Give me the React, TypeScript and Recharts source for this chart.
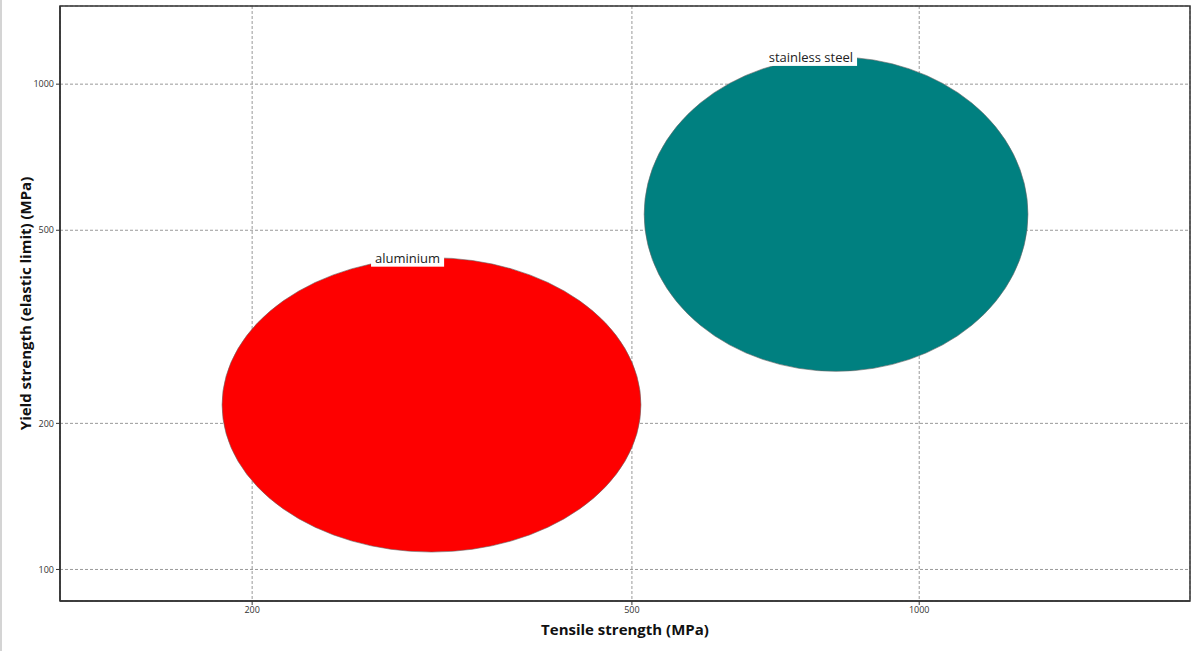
import {
  ScatterChart,
  XAxis,
  YAxis,
  CartesianGrid,
  ReferenceArea,
  ReferenceDot,
} from "recharts";

// material property envelopes (MPa)
const materials = ["aluminium", "stainless steel"];
const tensileMin = [186, 515];
const tensileMax = [511, 1300];
const yieldMin = [108.6, 256];
const yieldMax = [439, 1138];
const labelTensile = [291, 770];
const fills = ["#fe0000", "#008080"];

const xMajor = [200, 500, 1000];
const xMinor = [300, 400, 600, 700, 800, 900];
const yMajor = [100, 200, 500, 1000];
const yMinor = [90, 300, 400, 600, 700, 800, 900];

const xDomain: [number, number] = [125.8, 1922];
const yDomain: [number, number] = [86.1, 1449];

const FONT = "'Open Sans', sans-serif";

let ctx: CanvasRenderingContext2D | null = null;
function textWidth(s: string, font: string) {
  if (!ctx) ctx = document.createElement("canvas").getContext("2d");
  if (!ctx) return s.length * 7;
  ctx.font = font;
  return ctx.measureText(s).width;
}

function Tag({ cx, cy, text }: { cx: number; cy: number; text: string }) {
  const w = textWidth(text, `13px ${FONT}`) + 8;
  return (
    <g>
      <rect x={cx - w / 2} y={cy - 8} width={w} height={17} fill="#fff" />
      <text
        x={cx}
        y={cy + 5}
        textAnchor="middle"
        fontSize={13}
        fontFamily={FONT}
        fill="#222"
      >
        {text}
      </text>
    </g>
  );
}

const tickStyle = { fontSize: 9, fill: "#333", fontFamily: FONT };

export default function App() {
  return (
    <div
      style={{
        position: "absolute",
        left: 0,
        top: 0,
        width: 1200,
        height: 651,
        background: "#fff",
        borderLeft: "2px solid #d4d4d4",
        boxSizing: "border-box",
      }}
    >
      <ScatterChart
        width={1198}
        height={651}
        margin={{ top: 6, right: 8, left: 0, bottom: 0 }}
        style={{ fontFamily: FONT, marginLeft: -2 }}
      >
        <CartesianGrid stroke="#999" strokeDasharray="3 2" />
        {/* minor ticks, no labels */}
        <XAxis
          xAxisId="minor"
          type="number"
          scale="log"
          domain={xDomain}
          allowDataOverflow
          ticks={xMinor}
          tick={false}
          tickSize={3}
          tickLine={{ stroke: "#333" }}
          axisLine={false}
          height={0}
        />
        <YAxis
          yAxisId="minor"
          type="number"
          scale="log"
          domain={yDomain}
          allowDataOverflow
          ticks={yMinor}
          tick={false}
          tickSize={3}
          tickLine={{ stroke: "#333" }}
          axisLine={false}
          width={0}
        />
        <XAxis
          type="number"
          dataKey="x"
          scale="log"
          domain={xDomain}
          allowDataOverflow
          ticks={xMajor}
          interval={0}
          tick={tickStyle}
          tickSize={4}
          tickMargin={2}
          tickLine={{ stroke: "#333" }}
          axisLine={{ stroke: "#333", strokeWidth: 1.5 }}
          height={50}
          label={{
            value: "Tensile strength (MPa)",
            position: "center",
            dy: 4,
            style: { fontSize: 15, fontWeight: 700, fill: "#111", fontFamily: FONT },
          }}
        />
        <YAxis
          type="number"
          dataKey="y"
          scale="log"
          domain={yDomain}
          allowDataOverflow
          ticks={yMajor}
          interval={0}
          tick={tickStyle}
          tickSize={4}
          tickMargin={2}
          tickLine={{ stroke: "#333" }}
          axisLine={{ stroke: "#333", strokeWidth: 1.5 }}
          width={60}
          label={{
            value: "Yield strength (elastic limit) (MPa)",
            position: "center",
            angle: -90,
            dx: -4,
            style: { fontSize: 15, fontWeight: 700, fill: "#111", fontFamily: FONT, textAnchor: "middle" },
          }}
        />
        {materials.map((m, i) => (
          <ReferenceArea
            key={m}
            x1={tensileMin[i]}
            x2={tensileMax[i]}
            y1={yieldMin[i]}
            y2={yieldMax[i]}
            ifOverflow="visible"
            shape={(p: any) => (
              <ellipse
                cx={p.x + p.width / 2}
                cy={p.y + p.height / 2}
                rx={Math.abs(p.width) / 2}
                ry={Math.abs(p.height) / 2}
                fill={fills[i]}
                stroke="#666"
                strokeWidth={0.6}
              />
            )}
          />
        ))}
        {materials.map((m, i) => (
          <ReferenceDot
            key={m + "-label"}
            x={labelTensile[i]}
            y={yieldMax[i]}
            ifOverflow="visible"
            shape={(p: any) => <Tag cx={p.cx} cy={p.cy} text={m} />}
          />
        ))}
        <ReferenceArea
          x1={xDomain[0]}
          x2={xDomain[1]}
          y1={yDomain[0]}
          y2={yDomain[1]}
          fill="none"
          fillOpacity={0}
          stroke="#333"
          strokeWidth={1.5}
          ifOverflow="visible"
        />
      </ScatterChart>
    </div>
  );
}
